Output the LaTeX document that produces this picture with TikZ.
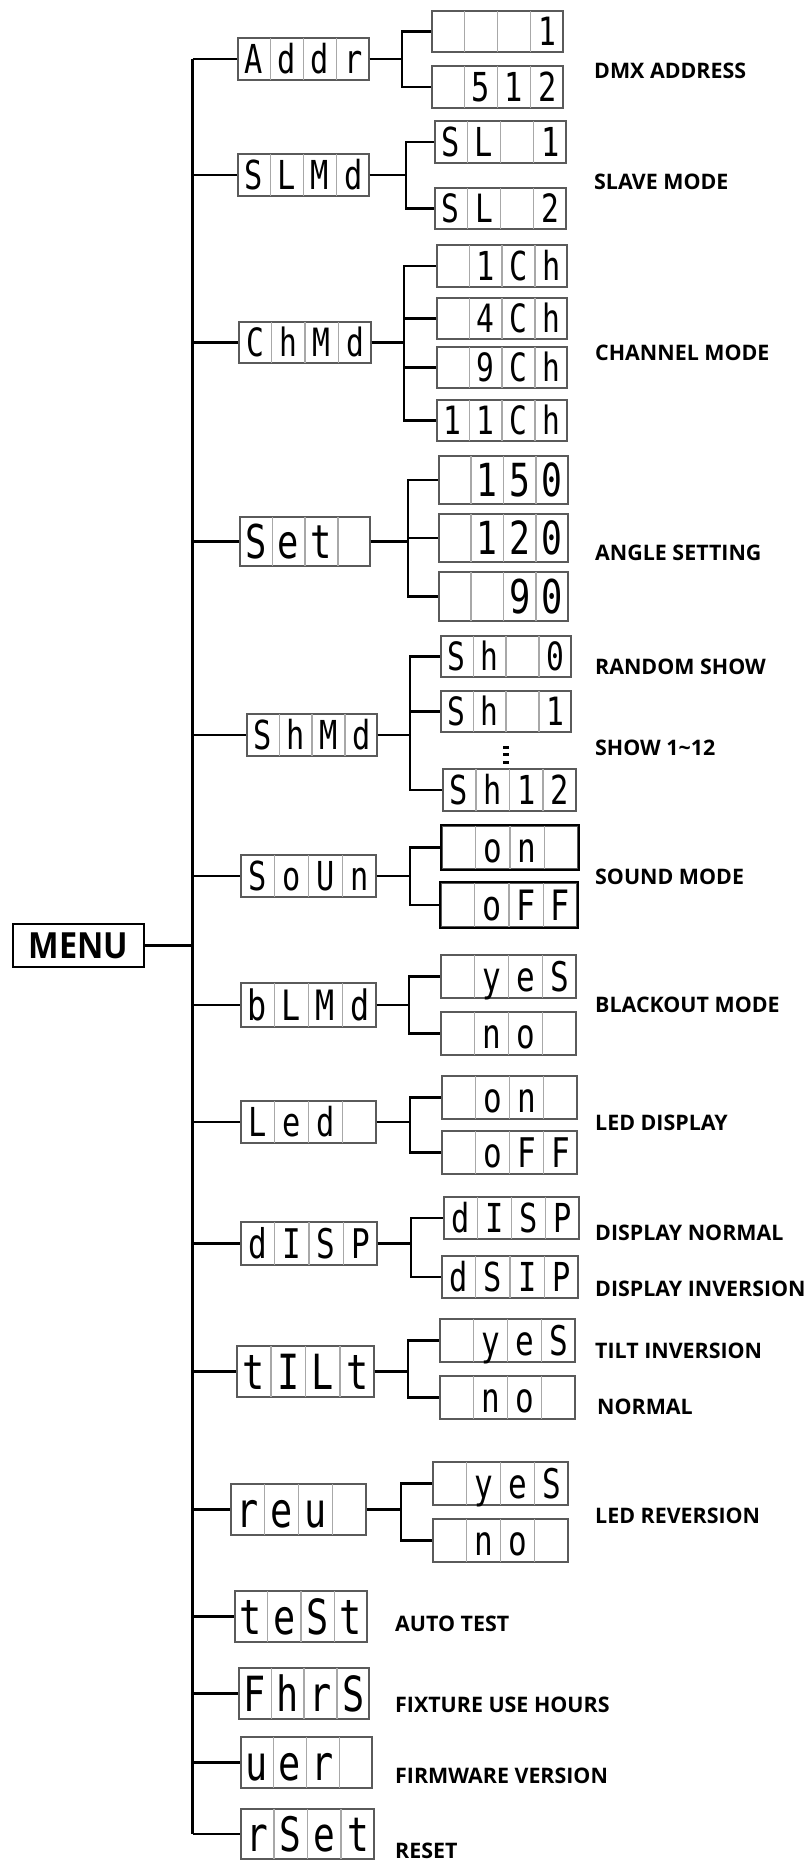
\documentclass[tikz,border=0pt]{standalone}
\usepackage{fontspec}
\usepackage{graphicx}
\setmainfont{Open Sans}
\newfontfamily\segfont{DejaVu Sans Mono}
\usetikzlibrary{calc}
\definecolor{dispEdge}{HTML}{5a5a5a}
\definecolor{dispCell}{HTML}{a8a8a8}
\tikzset{
  disp/.style={draw=dispEdge, line width=1.4pt, fill=white, inner sep=0pt},
  dispdark/.style={draw=black, line width=2pt},
  cellrule/.style={draw=dispCell, line width=1.3pt},
  glyph/.style={anchor=base, inner sep=0pt, yshift={-0.3645*\fs},
                font=\segfont\fontsize{\fs pt}{\fs pt}\selectfont},
  lbl/.style={anchor=west, inner sep=0pt, font=\bfseries\fontsize{21.4}{25}\selectfont},
  wire/.style={draw=black, line width=2.2pt},
  spine/.style={draw=black, line width=3pt},
  menubox/.style={draw=black, line width=2pt, minimum width=131, minimum height=43,
                  inner sep=0pt, font=\bfseries\fontsize{36}{40}\selectfont},
}
% display box: name, x, y, width, height, four cells
\newcommand{\display}[9]{%
  \node[disp, minimum width=#4, minimum height=#5] (#1) at (#2,#3) {};
  \foreach \k in {1,2,3}
    \draw[cellrule] ($(#1.south west)!\k/4!(#1.south east)$) -- ($(#1.north west)!\k/4!(#1.north east)$);
  \draw[disp, fill=none] (#1.south west) rectangle (#1.north east);
  \pgfmathsetmacro\fs{0.95*#5}
  \node[glyph] (#1-1) at ($(#1.west)!0.125!(#1.east)$) {\scalebox{0.76}[1]{#6}};
  \node[glyph] (#1-2) at ($(#1.west)!0.375!(#1.east)$) {\scalebox{0.76}[1]{#7}};
  \node[glyph] (#1-3) at ($(#1.west)!0.625!(#1.east)$) {\scalebox{0.76}[1]{#8}};
  \node[glyph] (#1-4) at ($(#1.west)!0.875!(#1.east)$) {\scalebox{0.76}[1]{#9}};
}

\begin{document}
\begin{tikzpicture}[x=1pt,y=-1pt]
  \useasboundingbox (0,0) rectangle (809,1861);
  \node[menubox] (menu) at (78.5,945.5) {\scalebox{0.9}[1]{MENU}};
  \coordinate (spine) at (192.5,0);

  % first level
  \display{addr}{303.5}{59}{131}{42}{A}{d}{d}{r}
  \display{slmd}{303.5}{175}{131}{42}{S}{L}{M}{d}
  \display{chmd}{305}{342.5}{132}{41}{C}{h}{M}{d}
  \display{set}{305}{541.5}{130}{49}{S}{e}{t}{}
  \display{shmd}{312}{735}{130}{42}{S}{h}{M}{d}
  \display{soun}{308.5}{876}{135}{42}{S}{o}{U}{n}
  \display{blmd}{308.5}{1005}{135}{44}{b}{L}{M}{d}
  \display{led}{308.5}{1122}{135}{42}{L}{e}{d}{}
  \display{disp}{309}{1243.5}{136}{43}{d}{I}{S}{P}
  \display{tilt}{305.5}{1371.5}{137}{51}{t}{I}{L}{t}
  \display{rev}{298.5}{1509.5}{135}{51}{r}{e}{u}{}
  \display{test}{301}{1616.5}{132}{51}{t}{e}{S}{t}
  \display{fhrs}{304}{1693.5}{130}{51}{F}{h}{r}{S}
  \display{ver}{306.5}{1762.5}{131}{51}{u}{e}{r}{}
  \display{rset}{307.5}{1834}{133}{50}{r}{S}{e}{t}

  % second level
  \display{addr1}{497.5}{31.5}{131}{41}{}{}{}{1}
  \display{addr512}{497.5}{87}{131}{42}{}{5}{1}{2}
  \display{sl1}{500.5}{142}{131}{42}{S}{L}{}{1}
  \display{sl2}{500.5}{208.5}{131}{41}{S}{L}{}{2}
  \display{ch1}{502}{266}{130}{42}{}{1}{C}{h}
  \display{ch4}{502}{318.5}{130}{41}{}{4}{C}{h}
  \display{ch9}{502}{367.5}{130}{41}{}{9}{C}{h}
  \display{ch11}{502}{420.5}{130}{41}{1}{1}{C}{h}
  \display{a150}{503.5}{480}{129}{48}{}{1}{5}{0}
  \display{a120}{503.5}{538}{129}{48}{}{1}{2}{0}
  \display{a90}{503.5}{596.5}{129}{49}{}{}{9}{0}
  \display{sh0}{506}{656.5}{130}{41}{S}{h}{}{0}
  \display{sh1}{506}{711.5}{130}{41}{S}{h}{}{1}
  \display{sh12}{509.5}{790}{133}{42}{S}{h}{1}{2}
  \display{son}{510}{847.5}{136}{43}{}{o}{n}{}
  \display{soff}{509}{905}{136}{44}{}{o}{F}{F}
  \draw[dispdark] (son.south west) rectangle (son.north east);
  \draw[dispdark] (soff.south west) rectangle (soff.north east);
  \display{byes}{508.5}{976.5}{135}{43}{}{y}{e}{S}
  \display{bno}{508.5}{1033.5}{135}{43}{}{n}{o}{}
  \display{lon}{509.5}{1097.5}{135}{43}{}{o}{n}{}
  \display{loff}{509.5}{1152.5}{135}{43}{}{o}{F}{F}
  \display{dnorm}{511.5}{1218}{135}{42}{d}{I}{S}{P}
  \display{dinv}{510}{1277}{136}{42}{d}{S}{I}{P}
  \display{tyes}{507.5}{1340.5}{135}{43}{}{y}{e}{S}
  \display{tno}{507.5}{1397.5}{135}{43}{}{n}{o}{}
  \display{ryes}{500.5}{1483.5}{135}{43}{}{y}{e}{S}
  \display{rno}{500.5}{1540.5}{135}{43}{}{n}{o}{}
  \foreach \d in {747,754.5,762}
    \fill (503,\d-1.5) rectangle ++(6,3);

  % spine and branches
  \draw[wire] (menu.east) -- (spine |- menu.east);
  \draw[spine] (spine |- addr.west) -- (spine |- rset.west);
  \foreach \n in {addr,slmd,chmd,set,shmd,soun,blmd,led,disp,tilt,rev,test,fhrs,ver,rset}
    \draw[wire] (spine |- \n.west) -- (\n.west);
  \draw[wire] (addr.east) -- ++(32,0) |- (addr1.west);
  \draw[wire] (addr.east) -- ++(32,0) |- (addr512.west);
  \draw[wire] (slmd.east) -- ++(36,0) |- (sl1.west);
  \draw[wire] (slmd.east) -- ++(36,0) |- (sl2.west);
  \foreach \c in {ch1,ch4,ch9,ch11}
    \draw[wire] (chmd.east) -- ++(32,0) |- (\c.west);
  \foreach \c in {a150,a120,a90}
    \draw[wire] (set.east) -- ++(37,0) |- (\c.west);
  \foreach \c in {sh0,sh1,sh12}
    \draw[wire] (shmd.east) -- ++(32,0) |- (\c.west);
  \draw[wire] (soun.east) -- ++(33,0) |- (son.west);
  \draw[wire] (soun.east) -- ++(33,0) |- (soff.west);
  \draw[wire] (blmd.east) -- ++(32,0) |- (byes.west);
  \draw[wire] (blmd.east) -- ++(32,0) |- (bno.west);
  \draw[wire] (led.east) -- ++(33,0) |- (lon.west);
  \draw[wire] (led.east) -- ++(33,0) |- (loff.west);
  \draw[wire] (disp.east) -- ++(33,0) |- (dnorm.west);
  \draw[wire] (disp.east) -- ++(33,0) |- (dinv.west);
  \draw[wire] (tilt.east) -- ++(33,0) |- (tyes.west);
  \draw[wire] (tilt.east) -- ++(33,0) |- (tno.west);
  \draw[wire] (rev.east) -- ++(34,0) |- (ryes.west);
  \draw[wire] (rev.east) -- ++(34,0) |- (rno.west);

  % labels
  \node[lbl] (l-addr) at (594,70.5) {DMX ADDRESS};
  \node[lbl] (l-slave) at (594,182) {SLAVE MODE};
  \node[lbl] (l-chan) at (595,353) {CHANNEL MODE};
  \node[lbl] (l-angle) at (595,552.5) {ANGLE SETTING};
  \node[lbl] (l-random) at (595,666.5) {RANDOM SHOW};
  \node[lbl] (l-show) at (595,747.5) {SHOW 1\char`~12};
  \node[lbl] (l-sound) at (595,876.5) {SOUND MODE};
  \node[lbl] (l-black) at (595,1004.5) {BLACKOUT MODE};
  \node[lbl] (l-led) at (595,1122.5) {LED DISPLAY};
  \node[lbl] (l-dnorm) at (595,1232.5) {DISPLAY NORMAL};
  \node[lbl] (l-dinv) at (595,1289) {DISPLAY INVERSION};
  \node[lbl] (l-tilt) at (595,1350.5) {TILT INVERSION};
  \node[lbl] (l-normal) at (597,1406.5) {NORMAL};
  \node[lbl] (l-rev) at (595,1515.5) {LED REVERSION};
  \node[lbl] (l-test) at (395,1623.5) {AUTO TEST};
  \node[lbl] (l-hours) at (395,1704.5) {FIXTURE USE HOURS};
  \node[lbl] (l-firm) at (395,1775.5) {FIRMWARE VERSION};
  \node[lbl] (l-reset) at (395,1850.5) {RESET};
\end{tikzpicture}
\end{document}
